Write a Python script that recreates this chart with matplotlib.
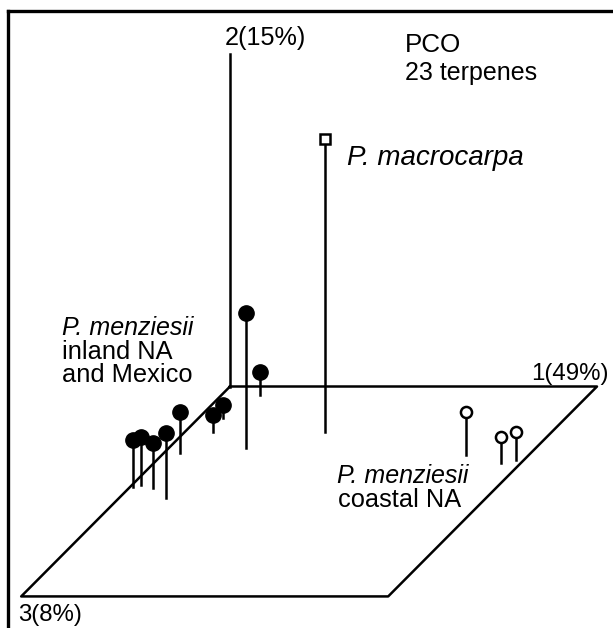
import matplotlib
matplotlib.use("Agg")
import matplotlib.pyplot as plt

plt.rcParams['font.family'] = ['Liberation Sans', 'DejaVu Sans']

# PCO scores: axis 1, axis 2 (height), axis 3 (depth)
inland_pc1 = [0.210, 0.105, 0.077, 0.066, 0.044, 0.128, 0.065, 0.025, 0.008]
inland_pc2 = [0.368, 0.063, 0.046, 0.035, 0.112, 0.177, 0.123, 0.131, 0.128]
inland_pc3 = [0.293, 0.040, 0.217, 0.150, 0.317, 0.531, 0.483, 0.469, 0.479]

coastal_pc1 = [0.829, 0.946, 0.979]
coastal_pc2 = [0.117, 0.071, 0.076]
coastal_pc3 = [0.326, 0.364, 0.350]

macro_pc1 = [0.382]
macro_pc2 = [0.798]
macro_pc3 = [0.217]

axis_labels = ['1(49%)', '2(15%)', '3(8%)']

# oblique projection of axis 3
DX3, DY3 = -0.569, -0.572
AX2_LEN = 0.907


def project(p1, p2, p3):
    xs = [a + c * DX3 for a, c in zip(p1, p3)]
    ys = [b + c * DY3 for b, c in zip(p2, p3)]
    return xs, ys


W, H = 613, 628
fig = plt.figure(figsize=(W / 100, H / 100), dpi=100)
ax = fig.add_axes([0, 0, 1, 1])
ax.set_xlim(-230 / 367, (W - 230) / 367)
ax.set_ylim((386.5 - H) / 367, 386.5 / 367)
ax.axis('off')


def fx(x):
    return x / W


def fy(y):
    return 1 - y / H


def label(x, y, s, size, **kw):
    ax.text(fx(x), fy(y), s, fontsize=size, va='baseline',
            transform=ax.transAxes, **kw)


lw = 1.8
# frame lines (top and left only)
ax.plot([fx(8), 1], [fy(11), fy(11)], color='black', lw=2.4,
        transform=ax.transAxes, clip_on=False)
ax.plot([fx(8), fx(8)], [fy(11), 0], color='black', lw=2.4,
        transform=ax.transAxes, clip_on=False)

# floor parallelogram and vertical axis
ax.plot([0, 1, 1 + DX3, DX3, 0], [0, 0, DY3, DY3, 0], color='black', lw=lw)
ax.plot([0, 0], [0, AX2_LEN], color='black', lw=lw)


def stems(p1, p2, p3):
    bx, by = project(p1, [0] * len(p1), p3)
    tx, ty = project(p1, p2, p3)
    for x0, y0, y1 in zip(bx, by, ty):
        ax.plot([x0, x0], [y0, y1], color='black', lw=lw, zorder=2)
    return tx, ty


tx, ty = stems(inland_pc1, inland_pc2, inland_pc3)
ax.plot(tx, ty, 'o', ms=11, color='black', zorder=3)

tx, ty = stems(coastal_pc1, coastal_pc2, coastal_pc3)
ax.plot(tx, ty, 'o', ms=8, mfc='white', mec='black', mew=1.8, zorder=3)

tx, ty = stems(macro_pc1, macro_pc2, macro_pc3)
ax.plot(tx, ty, 's', ms=7.5, mfc='white', mec='black', mew=1.8, zorder=3)

fs = 18
label(225, 45, axis_labels[1], 18.2)
label(609, 380, axis_labels[0], 17.3, ha='right')
label(18, 621, axis_labels[2], 17.3)

label(405, 52, 'PCO', 18.7)
label(405, 80, '23 terpenes', 18)

label(347, 165, 'P. macrocarpa', 20, style='italic')

label(62, 335, 'P. menziesii', fs, style='italic')
label(62, 359, 'inland NA', 18.3)
label(62, 382, 'and Mexico', 18.3)

label(337, 483, 'P. menziesii', fs, style='italic')
label(338, 507, 'coastal NA', 18.3)

fig.savefig('out.png', dpi=100)
